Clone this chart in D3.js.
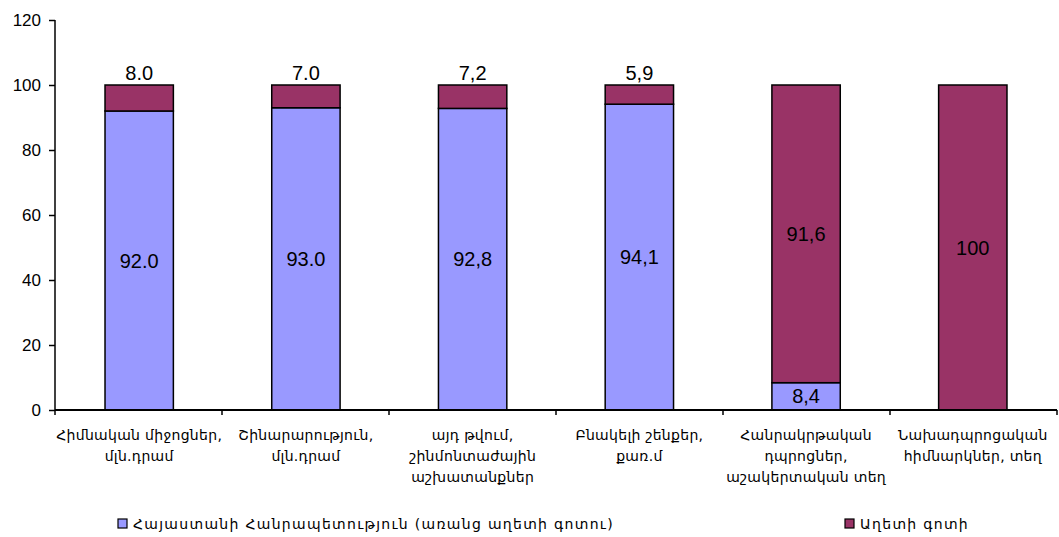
<!DOCTYPE html>
<html><head><meta charset="utf-8">
<script src="https://cdn.jsdelivr.net/npm/d3@7"></script>
<style>body{margin:0;background:#fff}svg{display:block}</style>
</head><body>
<script>
const categories = [
  ["Հիմնական միջոցներ,", "մլն.դրամ"],
  ["Շինարարություն,", "մլն.դրամ"],
  ["այդ թվում,", "շինմոնտաժային", "աշխատանքներ"],
  ["Բնակելի շենքեր,", "քառ.մ"],
  ["Հանրակրթական", "դպրոցներ,", "աշակերտական տեղ"],
  ["Նախադպրոցական", "հիմնարկներ, տեղ"]
];
const seriesNames = ["Հայաստանի Հանրապետություն (առանց աղետի գոտու)", "Աղետի գոտի"];
const armenia = [92.0, 93.0, 92.8, 94.1, 8.4, 0];
const disaster = [8.0, 7.0, 7.2, 5.9, 91.6, 100];
const armeniaLabels = ["92.0", "93.0", "92,8", "94,1", "8,4", ""];
const disasterLabels = ["8.0", "7.0", "7,2", "5,9", "91,6", "100"];
const yTicks = [0, 20, 40, 60, 80, 100, 120];
const colors = ["#9999FF", "#993366"];

const W = 1059, H = 537;
const svg = d3.select("body").append("svg").attr("width", W).attr("height", H);
const x = d3.scaleBand().domain(d3.range(categories.length)).range([55, 1057]).paddingInner(0.59).paddingOuter(0.3);
const y = d3.scaleLinear().domain([0, 120]).range([410, 20]);
const font = "Liberation Sans, Arial, sans-serif";
const armFont = "DejaVu Sans, Noto Sans, sans-serif";

// bars
const g = svg.append("g");
categories.forEach((c, i) => {
  const a = armenia[i], d = disaster[i];
  if (a > 0) g.append("rect").attr("x", x(i)).attr("y", y(a)).attr("width", x.bandwidth()).attr("height", y(0) - y(a))
    .attr("fill", colors[0]).attr("stroke", "#000").attr("stroke-width", 1.5);
  g.append("rect").attr("x", x(i)).attr("y", y(a + d)).attr("width", x.bandwidth()).attr("height", y(a) - y(a + d))
    .attr("fill", colors[1]).attr("stroke", "#000").attr("stroke-width", 1.5);
  const cx = x(i) + x.bandwidth() / 2;
  if (armeniaLabels[i]) g.append("text").attr("x", cx).attr("y", y(a / 2)).attr("dy", "0.35em")
    .attr("text-anchor", "middle").attr("font-family", font).attr("font-size", 20).text(armeniaLabels[i]);
  const small = d < 20;
  g.append("text").attr("x", cx).attr("y", small ? y(a + d) - 12 : y(a + d / 2)).attr("dy", "0.35em")
    .attr("text-anchor", "middle").attr("font-family", font).attr("font-size", 20).text(disasterLabels[i]);
});

// y axis
const yAxis = svg.append("g").attr("transform", "translate(55,0)")
  .call(d3.axisLeft(y).tickValues(yTicks).tickSize(6).tickPadding(8));
yAxis.select(".domain").attr("stroke-width", 1.5).attr("d", `M0,${y(120)}V${y(0)}`);
yAxis.selectAll(".tick line").attr("stroke-width", 1.5);
yAxis.selectAll("text").attr("font-family", font).attr("font-size", 17).attr("fill", "#000");

// x axis
const bounds = d3.range(categories.length + 1).map(i => 55 + i * (1002 / categories.length));
svg.append("line").attr("x1", 55).attr("x2", 1057).attr("y1", y(0)).attr("y2", y(0)).attr("stroke", "#000").attr("stroke-width", 2);
bounds.forEach(b => svg.append("line").attr("x1", b).attr("x2", b).attr("y1", y(0)).attr("y2", y(0) + 5).attr("stroke", "#000").attr("stroke-width", 1.5));
categories.forEach((c, i) => {
  const t = svg.append("text").attr("x", x(i) + x.bandwidth() / 2).attr("y", 440)
    .attr("text-anchor", "middle").attr("font-family", armFont).attr("font-size", 14).attr("letter-spacing", 0.3);
  c.forEach((line, k) => t.append("tspan").attr("x", x(i) + x.bandwidth() / 2).attr("dy", k === 0 ? 0 : 21).text(line));
});

// legend
const legX = [118, 845];
seriesNames.forEach((s, i) => {
  svg.append("rect").attr("x", legX[i]).attr("y", 519).attr("width", 9).attr("height", 9)
    .attr("fill", colors[i]).attr("stroke", "#000").attr("stroke-width", 1.2);
  svg.append("text").attr("x", legX[i] + 15).attr("y", 524).attr("dy", "0.35em")
    .attr("font-family", armFont).attr("font-size", 14).attr("letter-spacing", 1.3).text(s);
});
</script>
</body></html>
